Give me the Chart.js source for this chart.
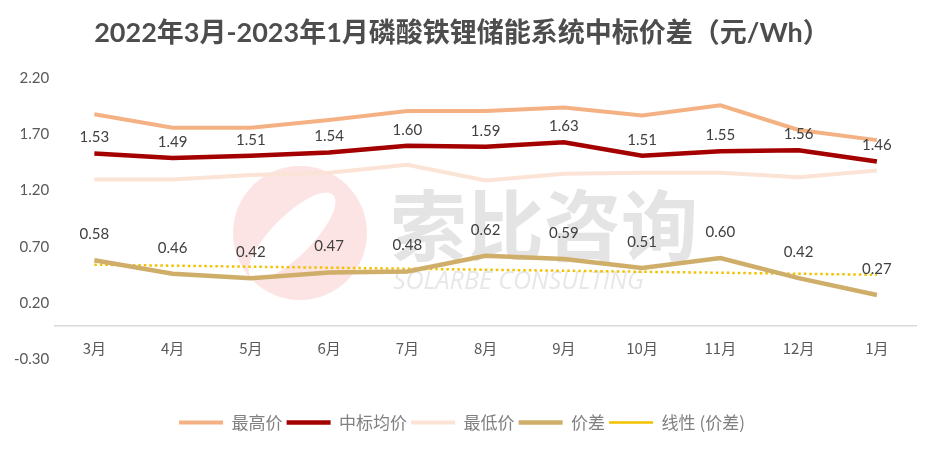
<!DOCTYPE html>
<html>
<head>
<meta charset="utf-8">
<script src="https://cdn.jsdelivr.net/npm/chart.js@4.4.0/dist/chart.umd.min.js"></script>
<style>
  html, body { margin: 0; padding: 0; background: #ffffff; }
  #box { width: 936px; height: 454px; }
</style>
</head>
<body>
<div id="box"><canvas id="grafico" width="936" height="454"></canvas></div>
<script>
const meses = ['3月', '4月', '5月', '6月', '7月', '8月', '9月', '10月', '11月', '12月', '1月'];
const maiorPreco = [1.88, 1.76, 1.76, 1.83, 1.91, 1.91, 1.94, 1.87, 1.96, 1.74, 1.65];
const precoMedio = [1.53, 1.49, 1.51, 1.54, 1.60, 1.59, 1.63, 1.51, 1.55, 1.56, 1.46];
const menorPreco = [1.30, 1.30, 1.34, 1.36, 1.43, 1.29, 1.35, 1.36, 1.36, 1.32, 1.38];
const diferenca = [0.58, 0.46, 0.42, 0.47, 0.48, 0.62, 0.59, 0.51, 0.60, 0.42, 0.27];
// trend line read at its two ends
const tendencia = [0.54, null, null, null, null, null, null, null, null, null, 0.45];
const yTicks = [-0.30, 0.20, 0.70, 1.20, 1.70, 2.20];

const fonteNum = 'Lato, "Noto Sans CJK SC", sans-serif';
const fonteCJK = '"Noto Sans CJK SC", Lato, sans-serif';

// watermark behind the lines
const marcaDagua = {
  id: 'marcaDagua',
  beforeDatasetsDraw(chart) {
    const ctx = chart.ctx;
    ctx.save();
    ctx.fillStyle = 'rgba(238, 120, 120, 0.2)';
    ctx.beginPath();
    ctx.arc(300, 233, 67, 0, Math.PI * 2);
    ctx.fill();
    ctx.fillStyle = '#ffffff';
    ctx.beginPath();
    ctx.ellipse(292, 236, 58, 20, -Math.PI / 4, 0, Math.PI * 2);
    ctx.fill();
    ctx.fillStyle = 'rgba(205, 205, 205, 0.55)';
    ctx.font = 'bold 77px "Noto Sans CJK SC"';
    ctx.textBaseline = 'middle';
    ctx.textAlign = 'left';
    ctx.fillText('索比咨询', 390, 226);
    ctx.fillStyle = 'rgba(215, 215, 215, 0.6)';
    ctx.font = 'italic 25px "Open Sans"';
    ctx.fillText('SOLARBE CONSULTING', 393, 282);
    ctx.restore();
  }
};

// value labels above two of the series
const rotulos = {
  id: 'rotulos',
  afterDatasetsDraw(chart) {
    const ctx = chart.ctx;
    ctx.save();
    ctx.font = '15px ' + fonteNum;
    ctx.fillStyle = '#404040';
    ctx.textAlign = 'center';
    ctx.textBaseline = 'middle';
    chart.data.datasets.forEach((ds, i) => {
      if (!ds.rotuloOffset) return;
      const meta = chart.getDatasetMeta(i);
      meta.data.forEach((pt, j) => {
        ctx.fillText(ds.data[j].toFixed(2), pt.x, pt.y - ds.rotuloOffset);
      });
    });
    ctx.restore();
  }
};

new Chart(document.getElementById('grafico'), {
  type: 'line',
  data: {
    labels: meses,
    datasets: [
      { label: '最高价', data: maiorPreco, borderColor: '#F4B183', backgroundColor: '#F4B183', borderWidth: 4 },
      { label: '中标均价', data: precoMedio, borderColor: '#A50000', backgroundColor: '#A50000', borderWidth: 4.5, rotuloOffset: 16 },
      { label: '最低价', data: menorPreco, borderColor: '#FBE3D6', backgroundColor: '#FBE3D6', borderWidth: 4 },
      { label: '价差', data: diferenca, borderColor: '#CFAE6A', backgroundColor: '#CFAE6A', borderWidth: 4.5, rotuloOffset: 26 },
      { label: '线性 (价差)', data: tendencia, borderColor: '#F2C200', backgroundColor: '#F2C200', borderWidth: 2.5, borderDash: [2.5, 3], spanGaps: true }
    ]
  },
  options: {
    responsive: false,
    animation: false,
    layout: { padding: { left: 8, right: 20, top: 0, bottom: 13 } },
    elements: {
      point: { radius: 0, hoverRadius: 0 },
      line: { tension: 0, borderCapStyle: 'butt', borderJoinStyle: 'miter' }
    },
    scales: {
      x: {
        position: { y: 0 },
        offset: true,
        grid: { display: false, drawTicks: false },
        border: { display: true, color: '#D9D9D9', width: 1.5 },
        ticks: { color: '#595959', font: { size: 15, family: fonteCJK }, padding: 14 }
      },
      y: {
        min: -0.755,
        max: 2.2,
        grid: { display: false, drawTicks: false },
        border: { display: false },
        afterBuildTicks: (scale) => { scale.ticks = yTicks.map(v => ({ value: v })); },
        ticks: {
          color: '#595959',
          font: { size: 15, family: fonteNum },
          padding: 6,
          callback: (v) => Number(v).toFixed(2)
        }
      }
    },
    plugins: {
      title: {
        display: true,
        text: '2022年3月-2023年1月磷酸铁锂储能系统中标价差（元/Wh）',
        color: '#4D4D4D',
        font: { size: 27, weight: 'bold', family: fonteNum },
        padding: { top: 17, bottom: 29 }
      },
      legend: {
        position: 'bottom',
        labels: {
          usePointStyle: true,
          pointStyle: 'line',
          pointStyleWidth: 44,
          color: '#808080',
          font: { size: 17, family: fonteCJK },
          padding: 4
        }
      },
      tooltip: { enabled: false }
    }
  },
  plugins: [marcaDagua, rotulos]
});
</script>
</body>
</html>
